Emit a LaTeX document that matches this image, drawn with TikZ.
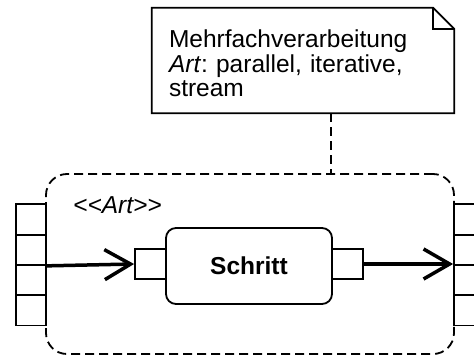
\documentclass[tikz,border=0pt]{standalone}
\usepackage{fontspec}
\setmainfont{Liberation Sans}
\usetikzlibrary{arrows.meta}

\begin{document}
\begin{tikzpicture}[x=1pt,y=-1pt,
  every node/.style={font=\fontsize{24.5}{24.5}\selectfont\frenchspacing},
  pinbox/.style={draw, line width=1.8pt, minimum width=30pt, minimum height=30.3pt, inner sep=0pt},
  flow/.style={line width=3.5pt, -{Straight Barb[length=26pt,width=30pt,line width=3.5pt]}},
  dashline/.style={line width=1.8pt, dash pattern=on 9pt off 5pt}]
\useasboundingbox (0,0) rectangle (474,356);
% note
\node[minimum width=302pt, minimum height=105pt, text width=268pt, inner xsep=17pt, align=left] (note) at (303,60.5)
  {\rule{0pt}{23.5pt}Mehrfachverarbeitung\\\textit{Art}: parallel, iterative,\\stream};
\draw[line width=1.8pt] (note.south west) -- (note.north west) -- ([xshift=-21pt]note.north east)
  -- ([yshift=-21pt]note.north east) -- (note.south east) -- cycle;
\draw[line width=1.8pt] ([xshift=-21pt]note.north east) |- ([yshift=-21pt]note.north east);
% region
\node[dashline, draw, rounded corners=21pt, minimum width=408pt, minimum height=180pt] (region) at (250,264) {};
\node[anchor=base west, inner sep=0pt] (stereo) at (73,213) {\textit{<\kern0pt<Art>\kern0pt>}};
% pins of the region
\foreach \i/\y in {1/219.5, 2/249.8, 3/280.1, 4/310.4} {
  \node[pinbox, fill=white] (lp\i) at (31,\y) {};
  \node[pinbox, fill=white] (rp\i) at (469,\y) {};
}
% step
\node[draw, line width=1.8pt, rounded corners=10pt, minimum width=166pt, minimum height=76pt] (step) at (249,266)
  {\textbf{Schritt}};
\node[pinbox, fill=white, minimum width=31pt] (inpin) at (150.5,264) {};
\node[pinbox, fill=white, minimum width=31pt] (outpin) at (347.5,264) {};
% flows
\draw[flow] (lp2.south east) -- (inpin.west);
\draw[flow] (outpin.east) -- (rp2.south west |- outpin.east);
\draw[dashline] (note.south -| outpin.west) -- (region.north -| outpin.west);
\end{tikzpicture}
\end{document}
